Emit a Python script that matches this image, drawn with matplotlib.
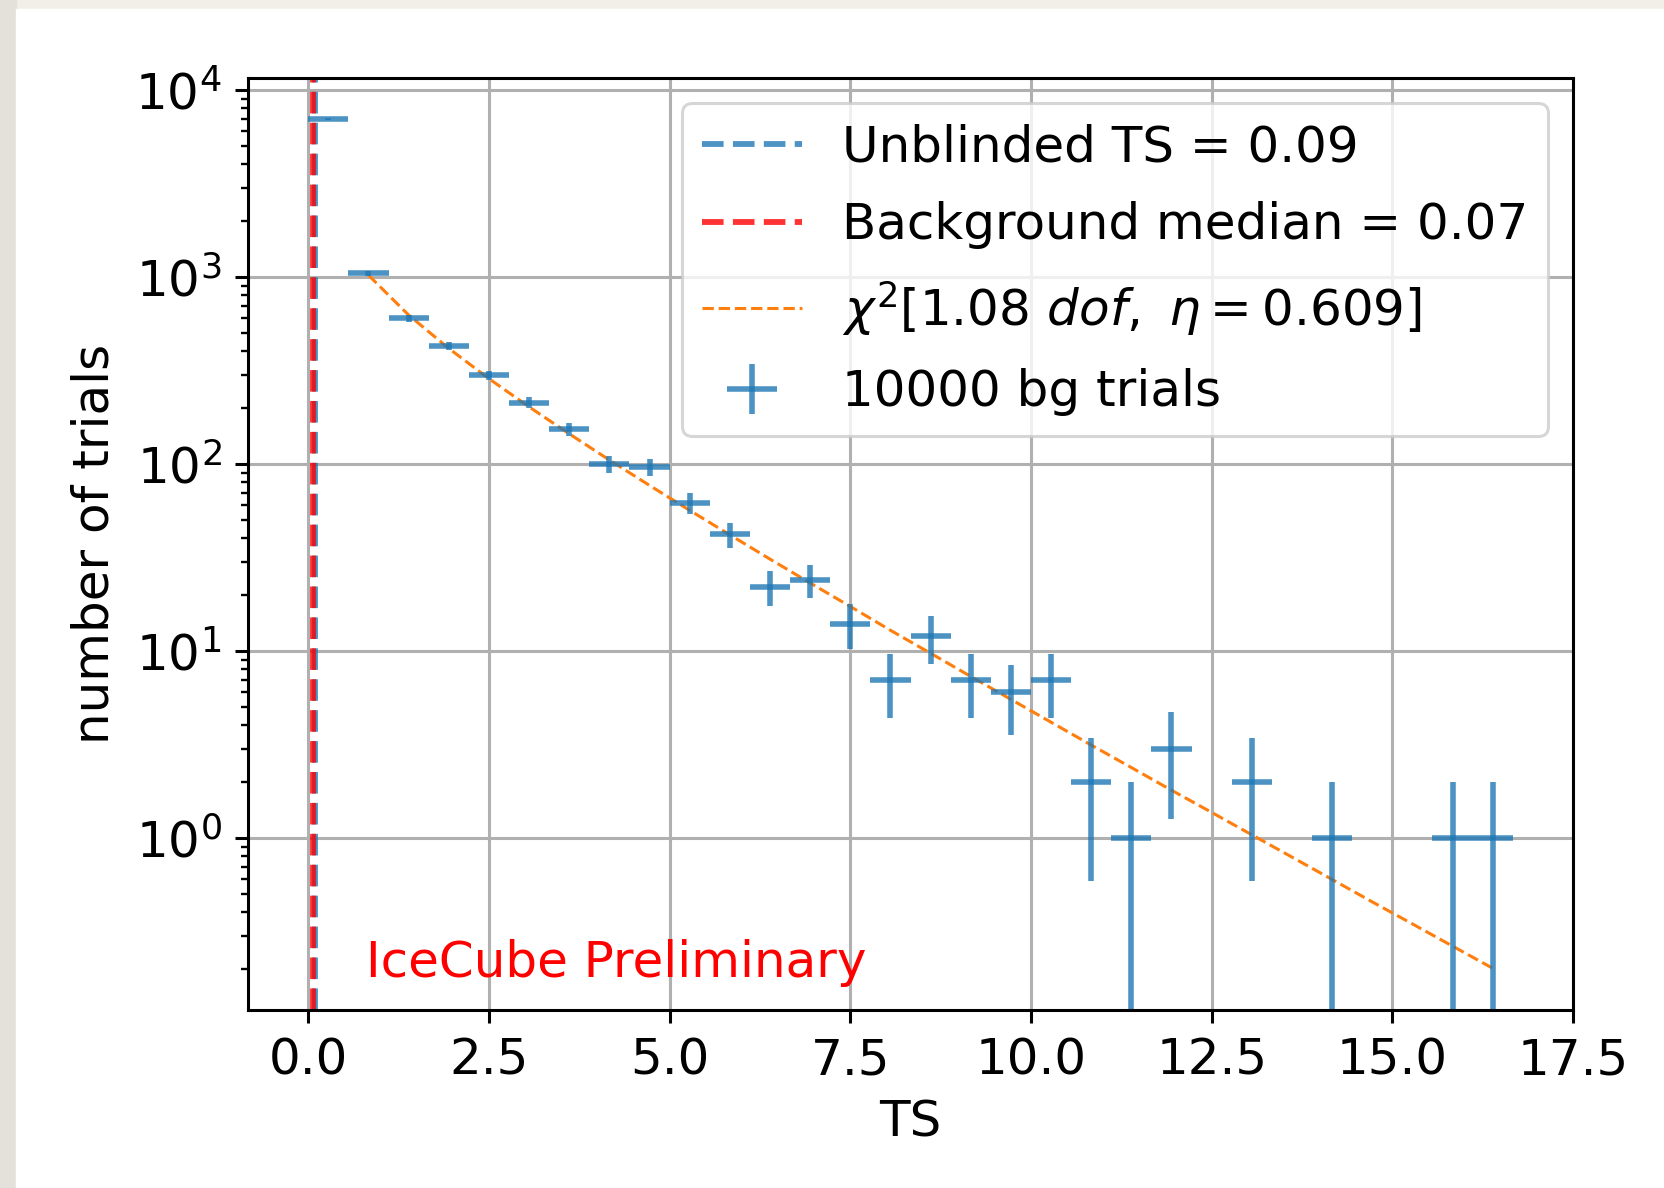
import numpy as np
import matplotlib
matplotlib.use("Agg")
import matplotlib.pyplot as plt
from matplotlib.patches import Rectangle

# background-only trials, histogrammed in TS
ts_max = 16.667
n_bins = 30
counts = [7000, 1046, 600, 430, 298, 213, 154, 100, 96, 62,
          42, 22, 24, 14, 7, 12, 7, 6, 7, 2,
          1, 3, 0, 2, 0, 1, 0, 0, 1, 1]

# chi2 fit evaluated at the bin centres (from the second bin on)
fit_vals = [1023, 626, 415, 286, 202, 145, 105, 76.8, 56.5, 41.8,
            31.0, 23.1, 17.3, 12.9, 9.72, 7.31, 5.51, 4.16, 3.14, 2.38,
            1.80, 1.37, 1.04, 0.79, 0.60, 0.455, 0.347, 0.264, 0.201]

ts_unblinded = 0.09
bg_median = 0.07
n_trials = 10000
fit_dof = 1.08
fit_eta = 0.609

plt.rcParams.update({
    "font.family": "DejaVu Sans",
    "mathtext.fontset": "dejavusans",
    "font.size": 36,
    "axes.linewidth": 2.2,
    "grid.linewidth": 2.2,
    "xtick.major.size": 9.5,
    "ytick.major.size": 9.5,
    "xtick.major.width": 2.2,
    "ytick.major.width": 2.2,
    "ytick.minor.size": 5.4,
    "ytick.minor.width": 1.7,
    "xtick.major.pad": 9.5,
    "ytick.major.pad": 9.5,
})

fig = plt.figure(figsize=(16.65, 11.88), dpi=100)
fig.patch.set_facecolor("#f2efe8")
fig.add_artist(Rectangle((0, 0), 16 / 1665, 1, transform=fig.transFigure,
                         color="#e4e1db", zorder=-2))
fig.add_artist(Rectangle((16 / 1665, 0), 1, 1 - 9 / 1188, transform=fig.transFigure,
                         color="white", zorder=-1))

ax = fig.add_axes([248 / 1665, 1 - 1010 / 1188, 1325 / 1665, 932 / 1188])

edges = np.linspace(0.0, ts_max, n_bins + 1)
centers = 0.5 * (edges[1:] + edges[:-1])
half_w = 0.5 * (edges[1] - edges[0])
counts = np.array(counts, dtype=float)
filled = counts > 0

ax.axvline(ts_unblinded, color="C0", ls="--", lw=4.2, alpha=0.8,
           label="Unblinded TS = %.2f" % ts_unblinded)
ax.axvline(bg_median, color="red", ls="--", lw=4.2, alpha=0.8,
           label="Background median = %.2f" % bg_median)
ax.plot(centers[1:], fit_vals, color="C1", ls="--", lw=2.2,
        label=r"$\chi^2[%.2f\ dof,\ \eta = %.3f]$" % (fit_dof, fit_eta))
ax.errorbar(centers[filled], counts[filled], xerr=half_w, yerr=np.sqrt(counts[filled]),
            ls="none", color="C0", elinewidth=4.0, alpha=0.8,
            label="%d bg trials" % n_trials)

ax.text(0.8, 0.18, "IceCube Preliminary", color="red", fontsize=36)

ax.set_yscale("log")
ax.set_xlim(-0.833, 17.5)
ax.set_ylim(10 ** -0.92, 10 ** 4.064)
ax.set_xticks(np.arange(0, 17.6, 2.5))
ax.grid(True)
ax.set_xlabel("TS", labelpad=10)
ax.set_ylabel("number of trials", labelpad=12)

leg = ax.legend(loc="upper right", fontsize=36, labelspacing=0.6)
leg.get_frame().set_linewidth(2.2)

fig.savefig("out.png", dpi=100, facecolor=fig.get_facecolor())
